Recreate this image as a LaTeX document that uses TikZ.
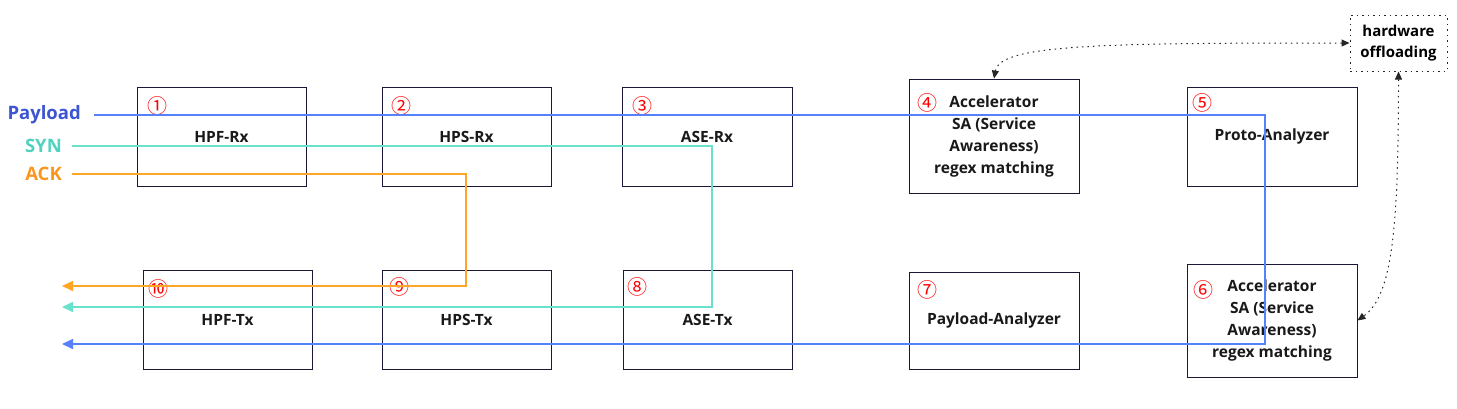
\documentclass[tikz,border=0pt]{standalone}
\usepackage{fontspec}
\setmainfont{Open Sans}
\newfontfamily\circfont{Noto Sans CJK SC}
\usetikzlibrary{arrows.meta}
\definecolor{boxline}{RGB}{25,25,55}
\definecolor{payline}{RGB}{85,130,250}
\definecolor{paytext}{RGB}{60,85,210}
\definecolor{synline}{RGB}{105,225,205}
\definecolor{syntext}{RGB}{80,210,190}
\definecolor{ackline}{RGB}{255,165,40}
\definecolor{acktext}{RGB}{250,150,30}
\definecolor{numred}{RGB}{255,0,0}
\tikzset{
  boxnode/.style={draw=boxline, line width=0.9pt, rectangle, inner sep=0pt, align=center,
    font={\fontsize{15.5}{22}\selectfont\bfseries}, text=black!90},
  num/.style={inner sep=0pt, text=numred, font={\circfont\fontsize{20}{20}\selectfont}},
  lab/.style={inner sep=0pt, anchor=east, font={\fontsize{18.5}{18.5}\selectfont\bfseries}},
  flow/.style={line width=1.6pt, -{Triangle[length=11pt,width=10pt]}},
  hwlink/.style={line width=1pt, black!85, dash pattern=on 1.5pt off 4pt,
    {Triangle[length=8pt,width=7pt]}-{Triangle[length=8pt,width=7pt]}}
}
\begin{document}
\begin{tikzpicture}[x=1pt,y=-1pt]
\useasboundingbox (0,0) rectangle (1457,408);
% boxes top row
\node[boxnode, minimum width=169pt, minimum height=99pt] (b1) at (221.5,136.5) {HPF-Rx};
\node[boxnode, minimum width=169pt, minimum height=99pt] (b2) at (466.5,136.5) {HPS-Rx};
\node[boxnode, minimum width=170pt, minimum height=99pt] (b3) at (707,136.5) {ASE-Rx};
\node[boxnode, minimum width=170pt, minimum height=114pt] (b4) at (994,136) {Accelerator\\SA (Service\\Awareness)\\regex matching};
\node[boxnode, minimum width=170pt, minimum height=99pt] (b5) at (1272,136.5) {Proto-Analyzer};
% boxes bottom row
\node[boxnode, minimum width=170pt, minimum height=113pt] (b6) at (1272,320.5) {Accelerator\\SA (Service\\Awareness)\\regex matching};
\node[boxnode, minimum width=170pt, minimum height=97pt] (b7) at (994,320.5) {Payload-Analyzer};
\node[boxnode, minimum width=169pt, minimum height=99pt] (b8) at (707.5,319.5) {ASE-Tx};
\node[boxnode, minimum width=169pt, minimum height=99pt] (b9) at (466.5,319.5) {HPS-Tx};
\node[boxnode, minimum width=169pt, minimum height=99pt] (b10) at (227.5,319.5) {HPF-Tx};
% hardware offloading
\node[draw=black!85, line width=1pt, dash pattern=on 1.5pt off 4pt, minimum width=97pt, minimum height=56pt,
  inner sep=0pt, align=center, font={\fontsize{15}{21}\selectfont\bfseries}] (hw) at (1398.5,43) {hardware\\offloading};
% circled numbers
\node[num] (n1) at (157,106) {①};
\node[num] (n2) at (401,106) {②};
\node[num] (n3) at (642,106) {③};
\node[num] (n4) at (927,103) {④};
\node[num] (n5) at (1202,103) {⑤};
\node[num] (n6) at (1203,290) {⑥};
\node[num] (n7) at (927,290) {⑦};
\node[num] (n8) at (637,287) {⑧};
\node[num] (n9) at (399,287) {⑨};
\node[num] (n10) at (158,289) {⑩};
% labels
\node[lab, text=paytext] (lp) at (81,115) {Payload};
\node[lab, text=syntext] (ls) at (62,146) {SYN};
\node[lab, text=acktext] (la) at (62,174) {ACK};
% flow coordinates
\coordinate (ps) at (94,115);
\coordinate (pc) at (1265,344);
\coordinate (pe) at (62,344);
\coordinate (ss) at (72,146);
\coordinate (sc) at (712,307);
\coordinate (se) at (62,307);
\coordinate (as) at (72,174);
\coordinate (ac) at (466,286);
\coordinate (ae) at (62,286);
\draw[flow, payline] (ps) -| (pc) -- (pe);
\draw[flow, synline] (ss) -| (sc) -- (se);
\draw[flow, ackline] (as) -| (ac) -- (ae);
% hardware offloading links
\draw[hwlink] (b4.north) .. controls +(6,-34) and +(-250,0) .. (hw.west);
\draw[hwlink] (hw.south) .. controls +(0,157) and +(35,-25) .. (b6.east);
\end{tikzpicture}
\end{document}
